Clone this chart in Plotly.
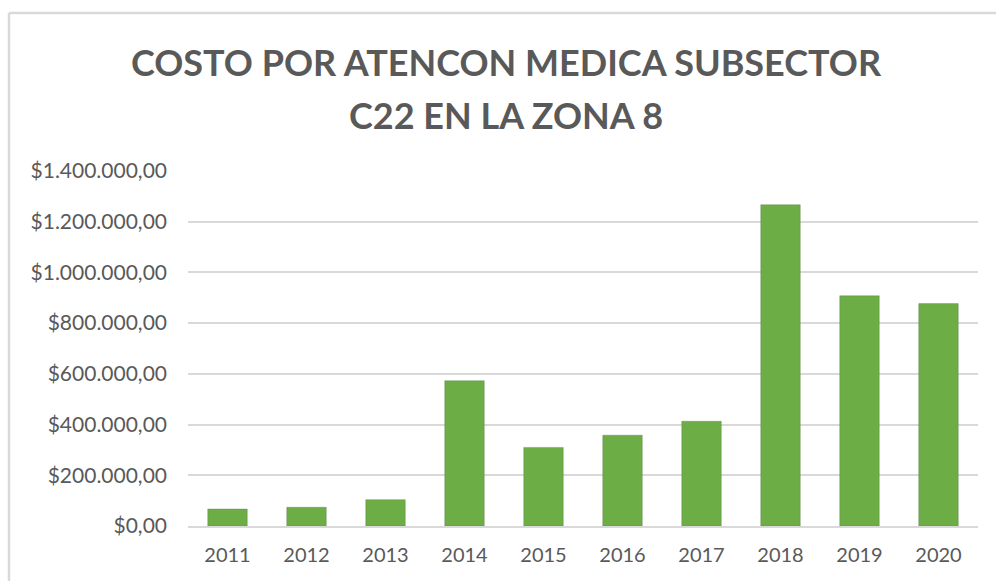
import plotly.graph_objects as go

years = ["2011", "2012", "2013", "2014", "2015", "2016", "2017", "2018", "2019", "2020"]
costs = [67000, 74000, 104000, 573000, 310000, 358000, 413000, 1267000, 908000, 877000]
y_ticks = [0, 200000, 400000, 600000, 800000, 1000000, 1200000, 1400000]
title_lines = ["COSTO POR ATENCON MEDICA SUBSECTOR", "C22 EN LA ZONA 8"]


def fmt(v):
    s = f"{v:,.2f}"
    s = s.replace(",", "X").replace(".", ",").replace("X", ".")
    return "$" + s


y_labels = [fmt(v) for v in y_ticks]

fig = go.Figure()
fig.add_trace(go.Bar(
    x=years, y=costs,
    marker=dict(color="#6dad45", line=dict(color="rgba(90,120,70,0.35)", width=1)),
    width=0.5,
    hoverinfo="x+y",
))

L, R, T, B = 188, 18, 171, 55
W, H = 996, 581
pw = W - L - R
ph = H - T - B


def px_x(p):
    return (p - L) / pw


def px_y(p):
    return (H - B - p) / ph


annotations = []
for text, cy in zip(title_lines, [62, 115]):
    annotations.append(dict(
        text=f"<b>{text}</b>", xref="paper", yref="paper",
        x=px_x(506), y=px_y(cy), xanchor="center", yanchor="middle",
        showarrow=False,
        font=dict(family="Lato", size=36, color="#595959"),
    ))

fig.update_layout(
    width=W, height=H,
    margin=dict(l=L, r=R, t=T, b=B, pad=0),
    paper_bgcolor="white", plot_bgcolor="white",
    showlegend=False,
    bargap=0.5,
    font=dict(family="Lato", color="#595959"),
    annotations=annotations,
    xaxis=dict(
        type="category",
        tickfont=dict(size=20, color="#595959"),
        showgrid=False,
        showline=True, linecolor="#d9d9d9", linewidth=1.5,
        ticks="", ticklabelstandoff=10,
    ),
    yaxis=dict(
        range=[0, 1400000],
        tickvals=y_ticks, ticktext=y_labels,
        tickfont=dict(size=21, color="#595959"),
        showgrid=True, gridcolor="#d9d9d9", gridwidth=1.5,
        zeroline=False, showline=False,
        ticks="", ticklabelstandoff=20,
    ),
    shapes=[
        dict(type="line", xref="paper", yref="paper",
             x0=px_x(9), x1=px_x(W + 5), y0=px_y(13), y1=px_y(13),
             line=dict(color="#d9d9d9", width=2.5)),
        dict(type="line", xref="paper", yref="paper",
             x0=px_x(9), x1=px_x(9), y0=px_y(13), y1=px_y(H + 5),
             line=dict(color="#d9d9d9", width=2.5)),
    ],
)

fig.write_html(
    "out.html",
    config={"displayModeBar": False},
    post_script="document.body.style.margin='0';document.body.style.overflow='hidden';",
)
